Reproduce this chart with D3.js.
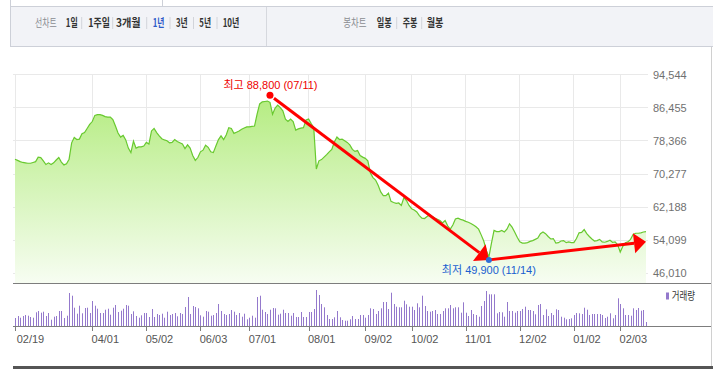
<!DOCTYPE html>
<html>
<head>
<meta charset="utf-8">
<script src="https://cdn.jsdelivr.net/npm/d3@7"></script>
<style>
    body { margin: 0; background: #fff; }
    svg { display: block; font-family: "Liberation Sans", Arial, "Noto Sans CJK KR", sans-serif; }
</style>
</head>
<body>
<div id="vis-container"></div>
<script>

    ////////////////////////////////////
    ////////////// Data ////////////////
    ////////////////////////////////////

    // daily closing prices, one per trading day
    const closes = [
        73900, 73600, 73300, 73100, 73000, 72900, 72900, 73100, 73300, 74400,
        74300, 73500, 72600, 73000, 72600, 73000, 73700, 74300, 73200, 72500,
        72800, 73900, 77900, 79200, 78700, 78800, 80100, 80400, 81400, 82400,
        83100, 84600, 84800, 84800, 84600, 84300, 84200, 84200, 83600, 82000,
        80300, 79300, 79700, 78600, 76600, 75500, 78300, 76600, 76900, 76900,
        77100, 78000, 77600, 80800, 81400, 80400, 79600, 78900, 78600, 78400,
        77900, 78000, 78700, 78200, 77900, 77600, 76500, 77400, 76600, 74800,
        73600, 74300, 75700, 76100, 77300, 76800, 75700, 75500, 77100, 78700,
        79600, 78700, 79800, 81600, 81400, 80200, 80500, 80800, 81200, 81500,
        81800, 81800, 81900, 82000, 84900, 87400, 87900, 88000, 88100, 87800,
        84900, 86400, 87100, 86500, 85700, 83700, 83100, 83700, 83100, 81000,
        81300, 81500, 81600, 83500, 83700, 82600, 81600, 71500, 73500, 73800,
        74400, 75000, 75700, 76300, 78100, 79300, 78700, 78800, 78400, 78000,
        77400, 76300, 75800, 76000, 74800, 74400, 74100, 73500, 70500, 69400,
        68800, 67500, 65900, 65000, 65000, 65600, 63600, 63300, 63100, 63200,
        62600, 64500, 63800, 62600, 61800, 61500, 61000, 60100, 59500, 59400,
        59900, 60300, 59900, 59500, 59200, 58900, 58300, 58900, 57600, 56800,
        57800, 59300, 59500, 59200, 59000, 58700, 58500, 58200, 57800, 57400,
        56800, 55400, 53900, 51600, 50000, 53400, 56500, 56200, 56200, 56500,
        56100, 56800, 58100, 57300, 56100, 54800, 53700, 53400, 53400, 53500,
        53800, 54000, 54300, 54600, 55700, 56100, 55700, 55000, 54400, 54500,
        53400, 53500, 53900, 54000, 53500, 53700, 53500, 53500, 54500, 55900,
        56000, 56700, 55700, 55000, 54400, 53900, 54000, 54300, 53700, 53600,
        53800, 54100, 53600, 53700, 53000, 51200, 52600, 53500, 53700, 54300,
        55500, 55800, 55800, 55900, 56100, 56200
    ]

    // daily volume (hundreds of shares)
    const volumes = [
        800, 1000, 830, 1000, 1100, 1030, 900, 830, 1370, 1500,
        1330, 1430, 1000, 1300, 630, 930, 1000, 1500, 1500, 800,
        1030, 3300, 3030, 1830, 1230, 2030, 1270, 1800, 1830, 1300,
        2500, 2030, 1730, 1300, 1300, 1630, 1730, 1130, 1830, 2100,
        1400, 1530, 1730, 2100, 2030, 1200, 1470, 1000, 830, 1070,
        1300, 1300, 900, 1700, 900, 1200, 1100, 1230, 830, 1430,
        1100, 1200, 1300, 970, 1300, 1200, 1900, 2900, 1200, 2000,
        1900, 1770, 1070, 930, 1500, 1430, 1030, 1100, 1300, 2200,
        1500, 1200, 1100, 1200, 1600, 1430, 1100, 1300, 930, 1230,
        670, 830, 1030, 830, 2900, 3030, 1630, 1400, 1200, 1630,
        1800, 1770, 1130, 1230, 1630, 1300, 1300, 1030, 1300, 900,
        900, 1400, 900, 900, 1400, 1400, 1700, 3600, 3100, 2200,
        1870, 1100, 700, 700, 870, 1500, 870, 600, 530, 530,
        670, 1000, 700, 700, 1100, 1100, 830, 1100, 1770, 1700,
        1200, 1500, 1770, 2400, 2400, 1700, 3330, 2200, 1930, 1870,
        1870, 2530, 2170, 1930, 1930, 1600, 2270, 1870, 3030, 2000,
        1500, 1430, 1500, 1600, 1200, 1200, 1500, 1770, 1770, 2100,
        1770, 1870, 1870, 1330, 2370, 1330, 1000, 1600, 1200, 1100,
        930, 2000, 2500, 3500, 3170, 3170, 3170, 1270, 1400, 1370,
        930, 2400, 1500, 1500, 1330, 1500, 1500, 1700, 1930, 1600,
        1600, 1500, 1170, 2100, 2200, 1100, 1670, 1000, 1300, 1100,
        1670, 1600, 930, 830, 670, 700, 770, 1100, 1300, 1270,
        1200, 1830, 1630, 1100, 1200, 1200, 1200, 1200, 1100, 800,
        930, 1270, 770, 1100, 2770, 2200, 1770, 1100, 1100, 1030,
        1770, 1600, 1800, 1530, 1600, 400
    ]

    // x tick labels and the trading day they sit on
    const xTickLabels = ['02/19', '04/01', '05/02', '06/03', '07/01', '08/01', '09/02', '10/02', '11/01', '12/02', '01/02', '02/03']
    const xTickDays = [0, 30, 51, 72, 91, 114, 136, 154, 175, 196, 217, 235]

    const yTicks = [46010, 54099, 62188, 70277, 78366, 86455, 94544]

    const high = { day: 99, value: 88800, date: '07/11' }
    const low = { day: 184, value: 49900, date: '11/14' }
    const trendEnd = { day: 245, value: 53700 }

    const periodMenu = ['1일', '1주일', '3개월', '1년', '3년', '5년', '10년']
    const candleMenu = ['일봉', '주봉', '월봉']

    ////////////////////////////////////
    ///////////// SVG Setup ////////////
    ////////////////////////////////////

    const svgWidth = 713
    const svgHeight = 369

    const plot = { left: 15, right: 646, top: 74.7, bottom: 273.3, panelBottom: 283 }
    const volBase = 326
    const volTop = 290

    const svg = d3.select('#vis-container')
        .append('svg')
        .attr('width', svgWidth)
        .attr('height', svgHeight)

    ////////////////////////////////////
    ///////////// Header ///////////////
    ////////////////////////////////////

    const header = svg.append('g')

    header.append('rect')
        .attr('x', 10.5).attr('y', 6.5)
        .attr('width', 710).attr('height', 40)
        .attr('fill', '#f2f3f7')
        .attr('stroke', '#cdd0d8')

    header.append('line').attr('x1', 10.5).attr('x2', 10.5).attr('y1', 0).attr('y2', 7).attr('stroke', '#cdd0d8')
    header.append('line').attr('x1', 162.5).attr('x2', 162.5).attr('y1', 0).attr('y2', 7).attr('stroke', '#cdd0d8')
    header.append('line').attr('x1', 266.5).attr('x2', 266.5).attr('y1', 7).attr('y2', 46).attr('stroke', '#d6d8de')

    const periodCx = [71.7, 99.2, 128.3, 158.5, 181.8, 205.2, 231]
    const periodW = [12, 21.7, 24.7, 11.7, 11.7, 11.7, 16.7]
    const periodSep = [81.7, 112.7, 146.7, 170, 193.5, 217]
    const candleCx = [384.2, 410, 435]
    const candleW = [15, 14.7, 16.7]
    const candleSep = [396.7, 421.7]

    function menuText(x, w, label, color, weight) {
        header.append('text')
            .attr('x', x - w / 2)
            .attr('y', 27)
            .attr('textLength', w)
            .attr('lengthAdjust', 'spacingAndGlyphs')
            .attr('font-family', '"Noto Sans CJK KR", sans-serif')
            .attr('font-size', 11.5)
            .attr('font-weight', weight)
            .attr('fill', color)
            .text(label)
    }

    menuText(45.8, 21.7, '선차트', '#8a8c92', 'normal')
    periodMenu.forEach((d, i) => menuText(periodCx[i], periodW[i], d, d === '1년' ? '#2d5ac8' : '#333', 'bold'))
    menuText(355, 23.3, '봉차트', '#8a8c92', 'normal')
    candleMenu.forEach((d, i) => menuText(candleCx[i], candleW[i], d, '#333', 'bold'))

    periodSep.concat(candleSep).forEach(x => {
        header.append('line')
            .attr('x1', x).attr('x2', x)
            .attr('y1', 17).attr('y2', 29)
            .attr('stroke', '#d2d4da')
    })

    ////////////////////////////////////
    /////////////// Scales /////////////
    ////////////////////////////////////

    const xScale = d3.scaleLinear()
        .domain([0, closes.length - 1])
        .range([plot.left, plot.right])

    const yScale = d3.scaleLinear()
        .domain([yTicks[0], yTicks[yTicks.length - 1]])
        .range([plot.bottom, plot.top])

    const volScale = d3.scaleLinear()
        .domain([0, d3.max(volumes)])
        .range([volBase, volTop])

    ////////////////////////////////////
    ///////////// Grid /////////////////
    ////////////////////////////////////

    const grid = svg.append('g').attr('stroke', '#e9e9e9').attr('shape-rendering', 'crispEdges')

    grid.selectAll('.hgrid')
        .data(yTicks)
        .join('line')
        .attr('x1', 13).attr('x2', 648)
        .attr('y1', d => yScale(d)).attr('y2', d => yScale(d))

    grid.selectAll('.vgrid')
        .data(xTickDays)
        .join('line')
        .attr('x1', d => xScale(d)).attr('x2', d => xScale(d))
        .attr('y1', plot.top).attr('y2', plot.panelBottom)

    ////////////////////////////////////
    ///////////// Price area ///////////
    ////////////////////////////////////

    const defs = svg.append('defs')
    const grad = defs.append('linearGradient')
        .attr('id', 'priceFill')
        .attr('gradientUnits', 'userSpaceOnUse')
        .attr('x1', 0).attr('x2', 0)
        .attr('y1', 95).attr('y2', plot.panelBottom)
    grad.append('stop').attr('offset', 0).attr('stop-color', '#b4ec80')
    grad.append('stop').attr('offset', 1).attr('stop-color', '#f7fdf2')

    const area = d3.area()
        .x((d, i) => xScale(i))
        .y0(plot.panelBottom)
        .y1(d => yScale(d))

    const line = d3.line()
        .x((d, i) => xScale(i))
        .y(d => yScale(d))

    svg.append('path')
        .datum(closes)
        .attr('d', area)
        .attr('fill', 'url(#priceFill)')

    svg.append('path')
        .datum(closes)
        .attr('d', line)
        .attr('fill', 'none')
        .attr('stroke', '#68c92f')
        .attr('stroke-width', 1.2)

    // y axis labels on the right
    svg.append('g')
        .selectAll('text')
        .data(yTicks)
        .join('text')
        .attr('x', 653)
        .attr('y', d => yScale(d) + 4)
        .attr('font-size', 11)
        .attr('fill', '#707070')
        .text(d => d3.format(',')(d))

    ////////////////////////////////////
    ///////////// Volume ///////////////
    ////////////////////////////////////

    svg.append('line')
        .attr('x1', 13).attr('x2', 711)
        .attr('y1', 283.5).attr('y2', 283.5)
        .attr('stroke', '#7d7d7d')

    svg.append('g')
        .selectAll('rect')
        .data(volumes)
        .join('rect')
        .attr('x', (d, i) => Math.round(xScale(i)))
        .attr('y', d => volScale(d))
        .attr('width', 1)
        .attr('height', d => volBase - volScale(d))
        .attr('fill', '#9479cc')

    svg.append('line')
        .attr('x1', 13).attr('x2', 711)
        .attr('y1', volBase + 0.5).attr('y2', volBase + 0.5)
        .attr('stroke', '#7d7d7d')

    const xAxis = svg.append('g')
    xAxis.selectAll('line')
        .data(xTickDays)
        .join('line')
        .attr('x1', d => Math.round(xScale(d)) + 0.5).attr('x2', d => Math.round(xScale(d)) + 0.5)
        .attr('y1', volBase).attr('y2', volBase + 5)
        .attr('stroke', '#7d7d7d')

    xAxis.selectAll('text')
        .data(xTickDays)
        .join('text')
        .attr('x', (d, i) => i === 0 ? xScale(d) + 1.7 : xScale(d) - 0.7)
        .attr('y', 343)
        .attr('font-size', 11)
        .attr('fill', '#555')
        .text((d, i) => xTickLabels[i])

    // legend
    svg.append('rect')
        .attr('x', 666).attr('y', 292.5)
        .attr('width', 3).attr('height', 7)
        .attr('fill', '#9479cc')
    svg.append('text')
        .attr('x', 671.7).attr('y', 300)
        .attr('textLength', 23.3)
        .attr('lengthAdjust', 'spacingAndGlyphs')
        .attr('font-family', '"Noto Sans CJK KR", sans-serif')
        .attr('font-size', 11)
        .attr('fill', '#333')
        .text('거래량')

    // frame lines
    svg.append('line')
        .attr('x1', 711.5).attr('x2', 711.5)
        .attr('y1', 47).attr('y2', 369)
        .attr('stroke', '#d0d0d0')
    svg.append('line')
        .attr('x1', 13).attr('x2', 713)
        .attr('y1', 367.5).attr('y2', 367.5)
        .attr('stroke', '#555')
        .attr('stroke-width', 3)

    ////////////////////////////////////
    /////////// Annotations ////////////
    ////////////////////////////////////

    const hx = xScale(high.day), hy = yScale(high.value) - 3
    const lx = xScale(low.day), ly = yScale(low.value) + 2.5
    const ex = xScale(trendEnd.day), ey = yScale(trendEnd.value)

    function arrow(x1, y1, x2, y2, headLen, headHalf) {
        const a = Math.atan2(y2 - y1, x2 - x1)
        const bx = x2 - Math.cos(a) * headLen
        const by = y2 - Math.sin(a) * headLen
        const px = -Math.sin(a) * headHalf
        const py = Math.cos(a) * headHalf
        svg.append('line')
            .attr('x1', x1).attr('y1', y1)
            .attr('x2', bx).attr('y2', by)
            .attr('stroke', '#ff0000')
            .attr('stroke-width', 3)
        svg.append('path')
            .attr('d', `M${x2},${y2}L${bx + px},${by + py}L${bx - px},${by - py}Z`)
            .attr('fill', '#ff0000')
    }

    const a1 = Math.atan2(ly - hy, lx - hx)
    arrow(hx + Math.cos(a1) * 5, hy + Math.sin(a1) * 5, lx, ly, 12, 10.5)
    arrow(lx, ly, ex, ey, 12, 10)

    svg.append('circle')
        .attr('cx', hx).attr('cy', hy).attr('r', 3.5)
        .attr('fill', '#ff0000')
    svg.append('circle')
        .attr('cx', lx).attr('cy', ly).attr('r', 3)
        .attr('fill', '#2f6fd6')

    svg.append('text')
        .attr('x', hx + 0.5).attr('y', hy - 6.5)
        .attr('text-anchor', 'middle')
        .attr('font-size', 11)
        .attr('fill', '#ee0000')
        .text(`최고 ${d3.format(',')(high.value)} (${high.date})`)

    svg.append('text')
        .attr('x', lx).attr('y', ly + 14.5)
        .attr('text-anchor', 'middle')
        .attr('font-size', 11)
        .attr('fill', '#1a5fd0')
        .text(`최저 ${d3.format(',')(low.value)} (${low.date})`)

</script>
</body>
</html>
